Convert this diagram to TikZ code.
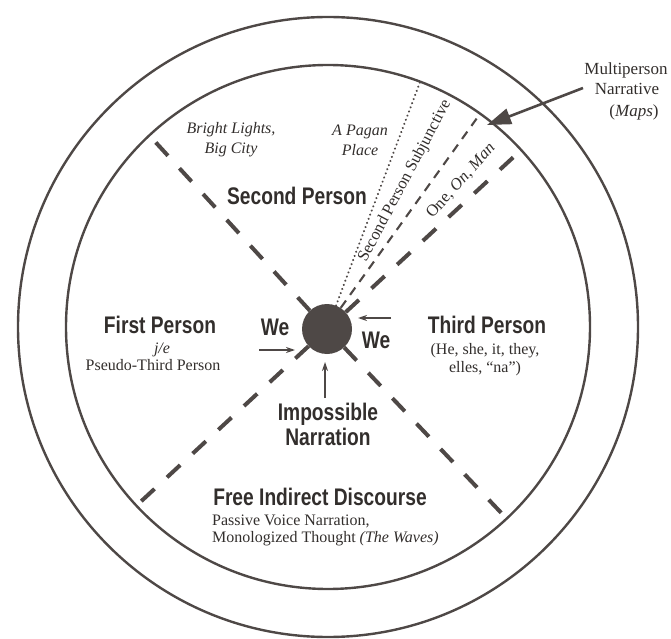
\documentclass[tikz,border=0pt]{standalone}
\usepackage{fontspec}
\setmainfont{Liberation Serif}
\newfontfamily\hv[FakeStretch=0.8]{Liberation Sans}
\usetikzlibrary{arrows.meta,calc}
\definecolor{ink}{RGB}{78,72,70}
\definecolor{txt}{RGB}{50,46,44}
\begin{document}
\begin{tikzpicture}[x=1pt,y=1pt,
  ring/.style={draw=ink,line width=2.4pt},
  bigdash/.style={draw=ink,line width=4pt,dash pattern=on 18pt off 17pt},
  thindash/.style={draw=ink,line width=2.1pt,dash pattern=on 9pt off 7pt},
  dotline/.style={draw=ink,line width=2.3pt,line cap=round,dash pattern=on 0.01pt off 4.4pt},
  heading/.style={text=txt,font=\hv\bfseries\fontsize{24}{26}\selectfont,inner sep=0pt},
  serif/.style={text=txt,font=\fontsize{16}{19}\selectfont,inner sep=0pt},
  smallarrow/.style={draw=ink,line width=1.2pt,-{Stealth[length=9pt,width=6pt]}},
]
\useasboundingbox (0,0) rectangle (671,638);
\coordinate (C) at (328,311);
\draw[ring] (C) circle[radius=310];
\draw[ring] (C) circle[radius=262];
\node[circle,fill=ink,inner sep=0pt,minimum size=50pt] (ball) at (327,309) {};
% ends on inner circle
\coordinate (e133) at ($(C)+(133:262)$);
\coordinate (e313) at ($(C)+(-47:262)$);
\coordinate (e42) at ($(C)+(42.5:262)$);
\coordinate (e223) at ($(C)+(223:262)$);
\coordinate (e69) at ($(C)+(69.4:262)$);
\coordinate (e54) at ($(C)+(54.5:262)$);
\draw[bigdash] (ball.133) -- (e133);
\draw[bigdash] (ball.-47) -- (e313);
\draw[bigdash] (ball.42.5) -- (e42);
\draw[bigdash] (ball.223) -- (e223);
\draw[dotline] (ball.69) -- (e69);
\draw[thindash] (ball.57) -- (e54);
% texts
\node[serif,font=\itshape\fontsize{16}{20}\selectfont,align=center] (bl) at (231,498) {Bright Lights,\\Big City};
\node[serif,font=\itshape\fontsize{16}{20}\selectfont,align=center] (ap) at (360,498) {A Pagan\\Place};
\node[heading,anchor=base] (sp) at (297,433) {Second Person};
\node[serif,rotate=62,font=\fontsize{16.5}{18}\selectfont] (sps) at (405,457) {Second Person Subjunctive};
\node[serif,rotate=48,font=\fontsize{16.5}{18}\selectfont] (oom) at (461,457) {One, \textit{On}, \textit{Man}};
\node[heading,anchor=base] (fp) at (160,305) {First Person};
\node[serif,anchor=base] (je) at (162,285) {\textit{j/e}};
\node[serif,anchor=base] (ptp) at (153,268) {Pseudo-Third Person};
\node[heading,anchor=base] (we1) at (275,303) {We};
\node[heading,anchor=base] (we2) at (376,290) {We};
\node[heading,anchor=base] (tp) at (487,305) {Third Person};
\node[serif,anchor=base] (tp1) at (485,284) {(He, she, it, they,};
\node[serif,anchor=base] (tp2) at (485,266) {elles, “na”)};
\node[heading,anchor=base] (imp1) at (328,218) {Impossible};
\node[heading,anchor=base] (imp2) at (328,193) {Narration};
\node[heading,anchor=base] (fid) at (320,133) {Free Indirect Discourse};
\node[serif,anchor=base west] (pvn) at (212,113) {Passive Voice Narration,};
\node[serif,anchor=base west] (mt) at (212,96) {Monologized Thought \textit{(The Waves)}};
\node[serif,anchor=base,font=\fontsize{17}{20}\selectfont] (mp1) at (626,563) {Multiperson};
\node[serif,anchor=base,font=\fontsize{17}{20}\selectfont] (mp2) at (627,543) {Narrative};
\node[serif,anchor=base,font=\fontsize{17}{20}\selectfont] (mp3) at (634,521) {(\textit{Maps})};
% arrows
\coordinate (a1s) at (259,288);
\coordinate (a1e) at (295,288);
\coordinate (a2s) at (391,320);
\coordinate (a2e) at (358,320);
\coordinate (a3s) at (325,240);
\coordinate (a3e) at (325,276);
\coordinate (ams) at (583,550);
\coordinate (amt) at (487,513);
\draw[smallarrow] (a1s) -- (a1e);
\draw[smallarrow] (a2s) -- (a2e);
\draw[smallarrow] (a3s) -- (a3e);
\draw[draw=ink,line width=2.6pt,-{Triangle[length=24pt,width=16pt]}] (ams) -- (amt);
\end{tikzpicture}
\end{document}
